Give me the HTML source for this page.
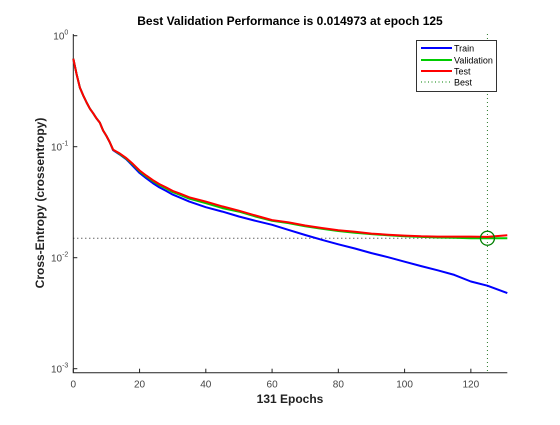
<!DOCTYPE html>
<html><head><meta charset="utf-8"><style>
body{margin:0;background:#fff;width:560px;height:420px;overflow:hidden}
svg{font-family:"Liberation Sans",sans-serif}
</style></head><body>
<svg id="chart" width="560" height="420" viewBox="0 0 560 420" xmlns="http://www.w3.org/2000/svg">
<rect x="0" y="0" width="560" height="420" fill="#fff"/>
<text x="290" y="25" text-anchor="middle" font-size="12" font-weight="bold" fill="#000">Best Validation Performance is 0.014973 at epoch 125</text>
<text x="290" y="403" text-anchor="middle" font-size="12" font-weight="bold" fill="#222">131 Epochs</text>
<text transform="translate(44,203) rotate(-90)" text-anchor="middle" font-size="12" font-weight="bold" fill="#222">Cross-Entropy  (crossentropy)</text>
<g id="plot"></g>
<g>
<rect x="416.5" y="40.5" width="80" height="51" fill="#fff" stroke="#000" stroke-width="0.8"/>
<line x1="421" y1="48" x2="452" y2="48" stroke="#0000ff" stroke-width="2"/>
<text x="454" y="51.5" font-size="9" fill="#000">Train</text>
<line x1="421" y1="60" x2="452" y2="60" stroke="#00cc00" stroke-width="2"/>
<text x="454" y="63.5" font-size="9" fill="#000">Validation</text>
<line x1="421" y1="71" x2="452" y2="71" stroke="#ff0000" stroke-width="2"/>
<text x="454" y="74.5" font-size="9" fill="#000">Test</text>
<line x1="421" y1="82" x2="452" y2="82" stroke="#008000" stroke-width="1" stroke-dasharray="1,2.5"/>
<text x="454" y="85.5" font-size="9" fill="#000">Best</text>
</g>
</svg>
<script>
const epochs = [0,1,2,3,4,5,6,7,8,9,10,11,12,14,16,18,20,22,24,26,28,30,32,35,40,45,50,55,60,65,70,75,80,85,90,95,100,105,110,115,120,125,131];
const trainLoss = [0.62,0.45,0.34,0.29,0.25,0.22,0.20,0.18,0.165,0.14,0.125,0.11,0.093,0.085,0.077,0.067,0.058,0.052,0.047,0.043,0.040,0.037,0.035,0.032,0.0285,0.026,0.0235,0.0215,0.0198,0.0178,0.016,0.0145,0.0132,0.0121,0.011,0.0101,0.0092,0.0084,0.0077,0.007,0.0061,0.0056,0.0048];
const valLoss = [0.62,0.45,0.34,0.29,0.25,0.22,0.20,0.18,0.165,0.14,0.125,0.11,0.094,0.086,0.078,0.069,0.060,0.054,0.049,0.045,0.042,0.039,0.037,0.034,0.031,0.028,0.026,0.0235,0.0215,0.0205,0.0192,0.0182,0.0174,0.0168,0.0163,0.0159,0.0156,0.0154,0.0152,0.0151,0.0150,0.014973,0.0150];
const testLoss = [0.62,0.45,0.34,0.29,0.25,0.22,0.20,0.18,0.165,0.14,0.125,0.11,0.094,0.087,0.079,0.070,0.061,0.055,0.050,0.046,0.043,0.040,0.038,0.035,0.032,0.029,0.0265,0.024,0.0218,0.0208,0.0195,0.0185,0.0177,0.0171,0.0165,0.0161,0.0158,0.0156,0.0155,0.0155,0.0155,0.0154,0.0159];
const xTicks = [0,20,40,60,80,100,120];
const yTicks = [-3,-2,-1,0];
const bestEpoch = 125;
const bestValue = 0.014973;

const L=73.3,R=507.3,T=34,B=372.7;
const xS=e=>L+e*(R-L)/131;
const yS=v=>35.7-Math.log10(v)*111;
const NS='http://www.w3.org/2000/svg';
const g=document.getElementById('plot');
function mk(tag,attrs){const el=document.createElementNS(NS,tag);for(const k in attrs)el.setAttribute(k,attrs[k]);g.appendChild(el);return el;}

let ax=mk('path',{d:`M${L},${T}V${B}H${R}`,fill:'none',stroke:'#222','stroke-width':1});


xTicks.forEach(t=>{
  const x=xS(t);
  let tk=mk('line',{x1:x,x2:x,y1:B,y2:B-4,stroke:'#222'});
  
  
  let lb=mk('text',{x:x,y:B+15,'text-anchor':'middle','font-size':10,fill:'#444'});
  lb.textContent=t;
  
  
});
yTicks.forEach(p=>{
  const y=yS(Math.pow(10,p));
  let tk=mk('line',{x1:L,x2:L+4,y1:y,y2:y,stroke:'#222'});
  
  
  let lb=mk('text',{x:L-5,y:y+4,'text-anchor':'end','font-size':10,fill:'#444'});
  lb.innerHTML='10<tspan dy="-5" font-size="7">'+p+'</tspan>';
  
  
});
let bv=mk('line',{x1:xS(bestEpoch),x2:xS(bestEpoch),y1:T,y2:B,stroke:'#2a7a2a','stroke-width':1,'stroke-dasharray':'1,3'});


let bh=mk('line',{x1:L,x2:R,y1:yS(bestValue),y2:yS(bestValue),stroke:'#222','stroke-width':1,'stroke-dasharray':'1,3'});


function series(vals,color,name){
  const d=vals.map((v,i)=>(i?'L':'M')+xS(epochs[i]).toFixed(1)+','+yS(v).toFixed(1)).join('');
  let p=mk('path',{d:d,fill:'none',stroke:color,'stroke-width':2,'stroke-linejoin':'round'});
  
  
}
series(trainLoss,'#0000ff','train-line');
series(valLoss,'#00cc00','validation-line');
series(testLoss,'#ff0000','test-line');
let c=mk('circle',{cx:xS(bestEpoch),cy:yS(bestValue),r:7,fill:'none',stroke:'#008000','stroke-width':1.3});


</script>
</body></html>
